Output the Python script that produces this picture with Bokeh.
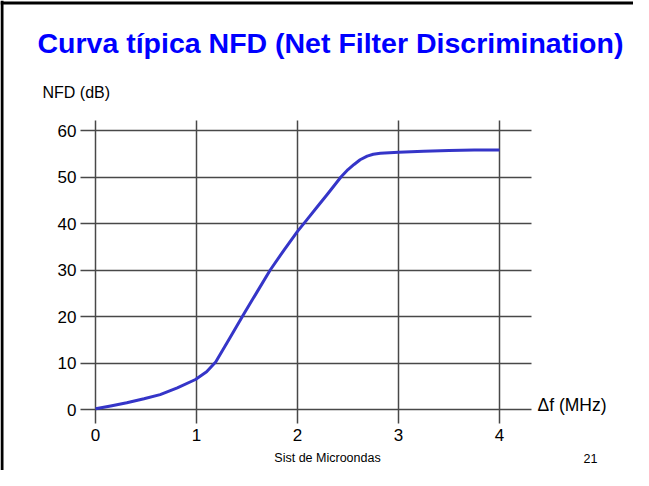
from bokeh.plotting import figure
from bokeh.models import Range1d, FixedTicker, Label, BoxAnnotation
from bokeh.embed import file_html
from bokeh.resources import INLINE

# ---- data ----
delta_f = [0.0, 0.15, 0.31, 0.48, 0.64, 0.81, 0.99, 1.1, 1.19, 1.33, 1.47,
           1.6, 1.73, 1.87, 2.0, 2.1, 2.2, 2.3, 2.43, 2.5, 2.56, 2.62, 2.69,
           2.75, 2.82, 3.0, 3.25, 3.5, 3.75, 4.0]
nfd_db = [0.15, 0.75, 1.45, 2.3, 3.2, 4.65, 6.45, 8.1, 10.2, 15.4, 20.6,
          25.3, 30.0, 34.4, 38.3, 41.0, 43.7, 46.4, 50.0, 51.6, 52.7, 53.7,
          54.5, 54.9, 55.1, 55.3, 55.55, 55.7, 55.78, 55.82]
x_ticks = [0, 1, 2, 3, 4]
y_ticks = [0, 10, 20, 30, 40, 50, 60]

title_text = "Curva típica NFD (Net Filter Discrimination)"
y_label = "NFD (dB)"
x_label = "\u0394f (MHz)"
footer_text = "Sist de Microondas"
page_no = "21"

FONT = "Liberation Sans"

# ---- geometry (canvas pixels) ----
W, H = 633, 470
X0_PX, PX_PER_X = 95.0, 101.0
Y0_PX, PX_PER_Y = 409.0, 4.65
GL, GR, GT, GB = 80, 531, 120, 423  # extent of the grid lines


def dx(px):
    return (px - X0_PX) / PX_PER_X


def dy(py):
    return (Y0_PX - py) / PX_PER_Y


p = figure(width=W, height=H, output_backend="svg", toolbar_location=None,
           x_range=Range1d(dx(0), dx(W)), y_range=Range1d(dy(H), dy(0)),
           min_border=0)
p.outline_line_color = None
p.background_fill_color = "white"
p.border_fill_color = "white"

for ax in (p.xaxis[0], p.yaxis[0]):
    ax.axis_line_color = None
    ax.major_tick_line_color = None
    ax.minor_tick_line_color = None
    ax.major_tick_out = 0
    ax.major_tick_in = 0
    ax.minor_tick_out = 0
    ax.minor_tick_in = 0
    ax.major_label_text_font = FONT
    ax.major_label_text_font_size = "17px"
    ax.major_label_text_color = "black"

p.xaxis[0].ticker = FixedTicker(ticks=x_ticks)
p.yaxis[0].ticker = FixedTicker(ticks=y_ticks)
p.xaxis[0].fixed_location = dy(GB)
p.yaxis[0].fixed_location = dx(GL)
p.xaxis[0].major_label_standoff = 5
p.yaxis[0].major_label_standoff = 4

GRID_COLOR = "#484848"
GRID_WIDTH = 1.5
grid_ok = "cross_bounds" in p.xgrid[0].properties()
if grid_ok:
    p.xgrid[0].ticker = FixedTicker(ticks=x_ticks)
    p.ygrid[0].ticker = FixedTicker(ticks=y_ticks)
    p.xgrid[0].cross_bounds = (dy(GB), dy(GT))
    p.ygrid[0].cross_bounds = (dx(GL), dx(GR))
    for g in (p.xgrid[0], p.ygrid[0]):
        g.grid_line_color = GRID_COLOR
        g.grid_line_width = GRID_WIDTH
else:
    p.xgrid.visible = False
    p.ygrid.visible = False
    p.segment(x0=x_ticks, x1=x_ticks, y0=[dy(GB)] * len(x_ticks),
              y1=[dy(GT)] * len(x_ticks), line_color=GRID_COLOR,
              line_width=GRID_WIDTH)
    p.segment(x0=[dx(GL)] * len(y_ticks), x1=[dx(GR)] * len(y_ticks),
              y0=y_ticks, y1=y_ticks, line_color=GRID_COLOR,
              line_width=GRID_WIDTH)

p.line(delta_f, nfd_db, line_color="#3535c8", line_width=3,
       line_join="round")


def add_text(px, py, text, size, align="left", color="black", bold=False):
    # py is the vertical centre of the capital letters
    p.add_layout(Label(x=dx(px), y=dy(py), text=text, text_font=FONT,
                       text_font_size=size, text_color=color,
                       text_font_style="bold" if bold else "normal",
                       text_align=align, text_baseline="alphabetic"))


add_text(37, 42, title_text, "28.5px", color="#0000ff", bold=True)
add_text(42, 92, y_label, "16px")
add_text(537, 404.5, x_label, "17.5px")
add_text(327, 457.5, footer_text, "12.5px", align="center")
add_text(583, 457.5, page_no, "12.5px")

# slide frame (top and left edges)
p.add_layout(BoxAnnotation(left=dx(0), right=dx(3), top=dy(0), bottom=dy(H),
                           fill_color="black", fill_alpha=1, line_color=None))
p.add_layout(BoxAnnotation(left=dx(0), right=dx(W), top=dy(1), bottom=dy(4),
                           fill_color="black", fill_alpha=1, line_color=None))

open("out.html", "w").write(file_html(p, INLINE))
